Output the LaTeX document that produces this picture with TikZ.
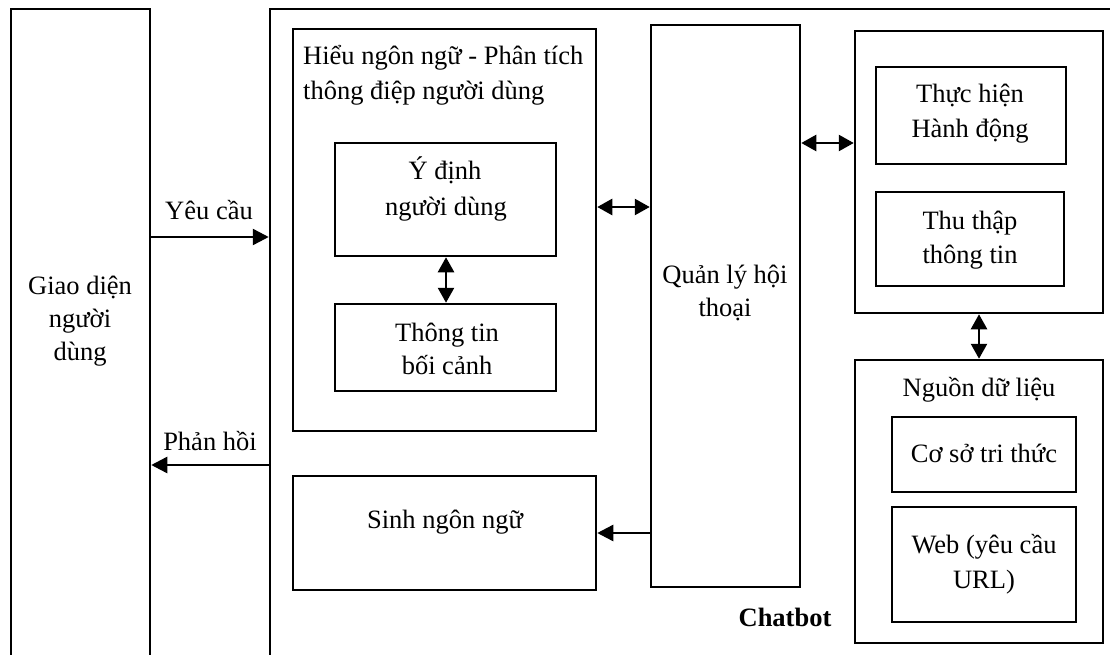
\documentclass[tikz,border=0pt]{standalone}
\usepackage{fontspec}
\setmainfont{Liberation Serif}
\usetikzlibrary{arrows.meta,fit}
\begin{document}
\begin{tikzpicture}[x=1pt,y=-1pt,
  box/.style={draw, line width=2.5pt, inner sep=0pt},
  txt/.style={font=\fontsize{26.5}{35}\selectfont, inner sep=0pt, anchor=base},
  arr/.style={line width=2.5pt, -{Triangle[length=16pt,width=16pt]}},
  darr/.style={line width=2.5pt, {Triangle[length=15pt,width=16pt]}-{Triangle[length=15pt,width=16pt]}}]
\useasboundingbox (0,0) rectangle (1110,655);
\clip (0,0) rectangle (1110,655);
% outer boxes
\node[box, fit={(11,9) (150,680)}] (ui) {};
\node[box, fit={(270,9) (1120,680)}] (cb) {};
% inner boxes
\node[box, fit={(293,29) (596,431)}] (nlu) {};
\node[box, fit={(335,143) (556,256)}] (intent) {};
\node[box, fit={(335,304) (556,391)}] (ctx) {};
\node[box, fit={(293,476) (596,590)}] (nlg) {};
\node[box, fit={(651,25) (800,587)}] (dm) {};
\node[box, fit={(855,31) (1103,313)}] (act) {};
\node[box, fit={(876,67) (1066,164)}] (exec) {};
\node[box, fit={(876,192) (1064,286)}] (collect) {};
\node[box, fit={(855,360) (1103,643)}] (src) {};
\node[box, fit={(892,417) (1076,492)}] (kb) {};
\node[box, fit={(892,507) (1076,622)}] (web) {};
% texts
\node[txt] (ui1) at (80,294) {Giao diện};
\node[txt] (ui2) at (80,327) {người};
\node[txt] (ui3) at (80,360) {dùng};
\node[txt] (req) at (209,219) {Yêu cầu};
\node[txt] (resp) at (210,450) {Phản hồi};
\node[txt, anchor=base west] (nlu1) at (303,65) {Hiểu ngôn ngữ - Phân tích};
\node[txt, anchor=base west] (nlu2) at (303,100) {thông điệp người dùng};
\node[txt] (in1) at (445,180) {Ý định};
\node[txt] (in2) at (446,215) {người dùng};
\node[txt] (cx1) at (447,341) {Thông tin};
\node[txt] (cx2) at (447,374) {bối cảnh};
\node[txt] (ng1) at (445,528) {Sinh ngôn ngữ};
\node[txt] (dm1) at (725,283) {Quản lý hội};
\node[txt] (dm2) at (725,316) {thoại};
\node[txt] (ex1) at (970,103) {Thực hiện};
\node[txt] (ex2) at (970,138) {Hành động};
\node[txt] (co1) at (970,229) {Thu thập};
\node[txt] (co2) at (970,263) {thông tin};
\node[txt] (sr1) at (979,396) {Nguồn dữ liệu};
\node[txt] (kb1) at (984,462) {Cơ sở tri thức};
\node[txt] (wb1) at (984,553) {Web (yêu cầu};
\node[txt] (wb2) at (984,588) {URL)};
\node[txt, font=\fontsize{26.5}{35}\selectfont\bfseries] (cbl) at (785,626) {Chatbot};
% connectors
\draw[arr] (ui.east |- 0,237) -- (cb.west |- 0,237);
\draw[arr] (cb.west |- 0,465) -- (ui.east |- 0,465);
\draw[darr] (nlu.east |- 0,207) -- (dm.west |- 0,207);
\draw[darr] (dm.east |- 0,143) -- (act.west |- 0,143);
\draw[darr] (intent.south -| 446,0) -- (ctx.north -| 446,0);
\draw[darr] (act.south -| 979,0) -- (src.north -| 979,0);
\draw[arr] (dm.west |- 0,533) -- (nlg.east |- 0,533);
\end{tikzpicture}
\end{document}
